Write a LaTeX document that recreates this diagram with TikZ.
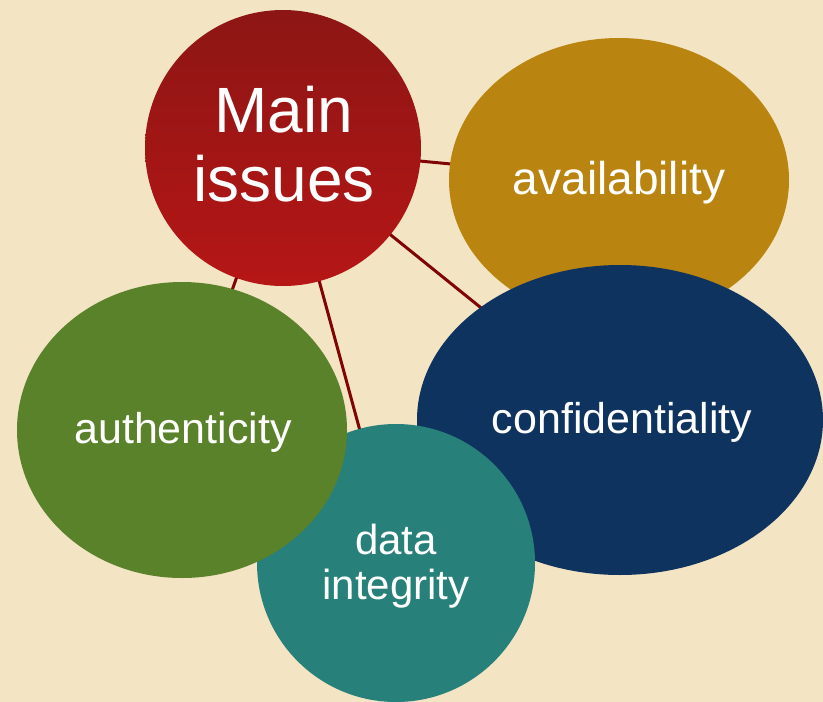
\documentclass[tikz,border=0pt]{standalone}
\usepackage{fontspec}
\setmainfont{Liberation Sans}
\begin{document}
\begin{tikzpicture}[x=1pt,y=-1pt,
  blob/.style={draw=none,inner sep=0pt,text=white,align=center},
  link/.style={draw=linkred,line width=3pt}]
\definecolor{bg}{RGB}{243,228,195}
\definecolor{linkred}{RGB}{128,4,4}
\definecolor{redtop}{RGB}{140,22,20}
\definecolor{redbot}{RGB}{182,22,22}
\definecolor{goldc}{RGB}{185,132,16}
\definecolor{navyc}{RGB}{15,51,95}
\definecolor{greenc}{RGB}{90,130,42}
\definecolor{tealc}{RGB}{40,128,122}
\fill[bg] (0,0) rectangle (823,702);
\useasboundingbox (0,0) rectangle (823,702);
% node centres
\coordinate (cm) at (283,148);
\coordinate (ca) at (619,180);
\coordinate (cc) at (620,420);
\coordinate (cd) at (396,563);
\coordinate (cu) at (182,430);
% connectors
\draw[link] (cm) -- (ca);
\draw[link] (cm) -- (cc);
\draw[link] (cm) -- (cd);
\draw[link] (cm) -- (cu);
% main circle
\shade[top color=redtop,bottom color=redbot] (cm) circle (138);
\node[blob,font=\fontsize{64}{69}\selectfont] (main) at (284,144) {Main\\issues};
% availability
\fill[goldc] (ca) ellipse (170 and 142);
\node[blob,font=\fontsize{46}{50}\selectfont] (avail) at (619,183) {availability};
% confidentiality
\fill[navyc] (cc) ellipse (203 and 155);
\node[blob,font=\fontsize{43}{48}\selectfont] (conf) at (622,422) {confidentiality};
% data integrity
\fill[tealc] (cd) circle (139);
\node[blob,font=\fontsize{42}{45}\selectfont] (integ) at (396,566) {data\\integrity};
% authenticity
\fill[greenc] (cu) ellipse (165 and 148);
\node[blob,font=\fontsize{43}{48}\selectfont] (auth) at (183,432) {authenticity};
\end{tikzpicture}
\end{document}
